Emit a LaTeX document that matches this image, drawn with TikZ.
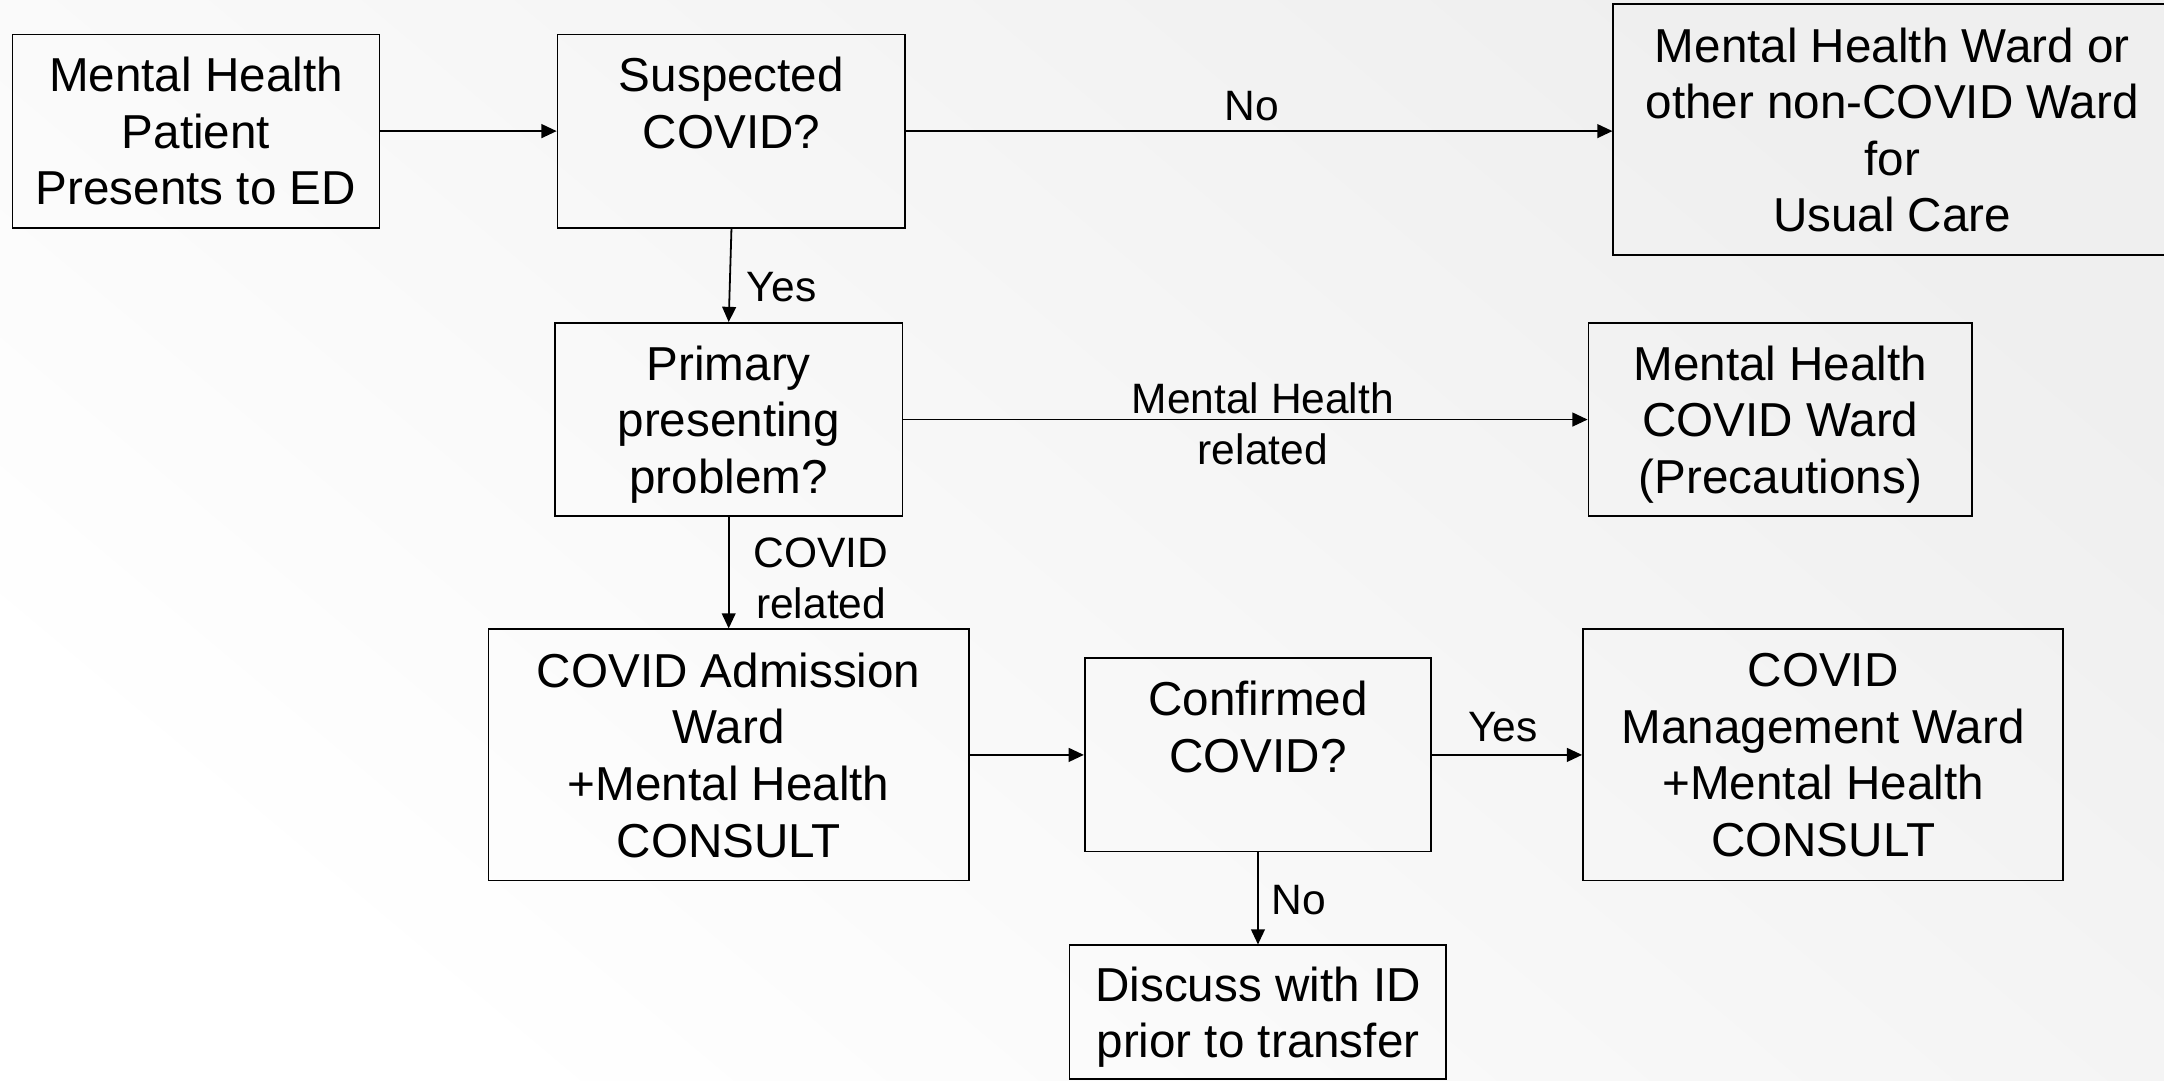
\documentclass[tikz,border=0pt]{standalone}
\usepackage{fontspec}
\setmainfont{Liberation Sans}
\usetikzlibrary{arrows.meta}

\definecolor{bggray}{RGB}{239,239,239}

\tikzset{
  box/.style={draw=black, line width=1.3pt, align=center, inner sep=0pt,
              text depth=0pt, font=\fontsize{34.5}{41}\selectfont},
  flow/.style={line width=1.3pt, -{Triangle[length=11pt,width=10pt]}},
  lbl/.style={inner sep=0pt, align=center, font=\fontsize{30.8}{36.5}\selectfont},
}

\begin{document}
\begin{tikzpicture}[x=1pt,y=-1pt]
  % page frame and soft background
  \useasboundingbox (0,0) rectangle (1568,783);
  \shade[bottom color=white, top color=bggray, shading angle=-40]
    (0,0) rectangle (1568,783);

  % boxes
  \node[box, minimum width=266pt, minimum height=140pt] (a) at (142,95)
    {Mental Health\\Patient\\Presents to ED};
  \node[box, minimum width=252pt, minimum height=140pt] (b) at (530,95)
    {Suspected\\COVID?\\\strut};
  \node[box, minimum width=404pt, minimum height=182pt] (c) at (1371,94)
    {Mental Health Ward or\\other non-COVID Ward\\for\\Usual Care};
  \node[box, minimum width=252pt, minimum height=140pt] (d) at (528,304)
    {Primary\\presenting\\problem?};
  \node[box, minimum width=278pt, minimum height=140pt] (e) at (1290,304)
    {Mental Health\\COVID Ward\\(Precautions)};
  \node[box, minimum width=348pt, minimum height=182pt] (f) at (528,547)
    {COVID Admission\\Ward\\+Mental Health\\CONSULT};
  \node[box, minimum width=251pt, minimum height=140pt] (g) at (911.5,547)
    {Confirmed\\COVID?\\\strut};
  \node[box, minimum width=348pt, minimum height=182pt] (h) at (1321,547)
    {COVID\\Management Ward\\+Mental Health\\CONSULT};
  \node[box, minimum width=273pt, minimum height=97pt] (i) at (911.5,733.5)
    {Discuss with ID\\prior to transfer};

  % connectors
  \draw[flow] (a.east) -- (b.west);
  \draw[flow] (b.east) -- (b.east -| c.west);
  \draw[flow] (b.south) -- (d.north);
  \draw[flow] (d.east) -- (e.west);
  \draw[flow] (d.south) -- (f.north);
  \draw[flow] (f.east) -- (g.west);
  \draw[flow] (g.east) -- (h.west);
  \draw[flow] (g.south) -- (i.north);

  % connector labels
  \node[lbl] (lno1) at (907,77) {No};
  \node[lbl, anchor=west] (lyes1) at (541,208) {Yes};
  \node[lbl] (lmh) at (915,307) {Mental Health\\related};
  \node[lbl, anchor=west] (lcov) at (546,419) {COVID\\related};
  \node[lbl] (lyes2) at (1089,527) {Yes};
  \node[lbl, anchor=west] (lno2) at (921,652) {No};
\end{tikzpicture}
\end{document}
